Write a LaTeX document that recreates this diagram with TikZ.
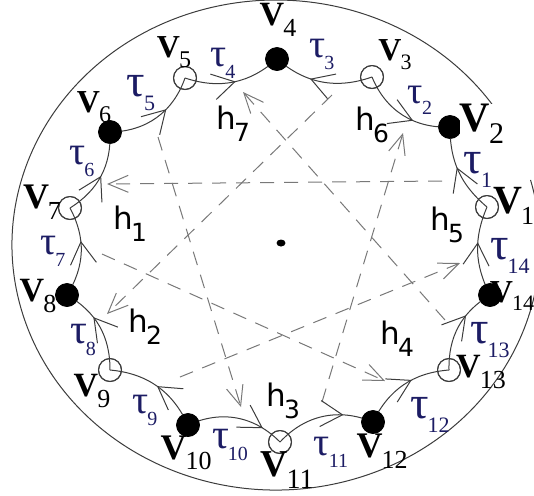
\documentclass[tikz,border=0pt]{standalone}
\usepackage{fontspec}
\setmainfont{Liberation Serif}
\newfontfamily\hfont{DejaVu Sans}
\usetikzlibrary{arrows.meta,decorations.markings}
\definecolor{taublue}{RGB}{28,28,100}
\definecolor{lin}{RGB}{60,60,60}
\definecolor{dsh}{RGB}{120,120,120}
\newcommand{\VL}[3]{{\fontsize{#1}{#1}\selectfont\bfseries V}\kern-0.5pt{\fontsize{#2}{#2}\selectfont\raisebox{-0.4em}{#3}}}
\newcommand{\TL}[3]{{\color{taublue}\fontsize{#1}{#1}\selectfont τ\kern-0.6pt\raisebox{-0.3em}{\fontsize{#2}{#2}\selectfont #3}}}
\newcommand{\HL}[1]{{\hfont\fontsize{15.5}{15.5}\selectfont h\kern-0.8pt\raisebox{-0.4em}{\fontsize{12.5}{12.5}\selectfont #1}}}
\begin{document}
\begin{tikzpicture}[x=0.5pt,y=-0.5pt,
  wv/.style={circle,draw=lin,line width=0.5pt,minimum size=11.5pt,inner sep=0},
  bv/.style={circle,fill=black,draw=black,minimum size=11.5pt,inner sep=0},
  tarc/.style={draw=lin,line width=0.5pt,postaction={decorate,decoration={markings,
      mark=at position #1 with {\arrow[lin,line width=0.5pt]{Straight Barb[length=11pt,width=13pt]}}}}},
  dline/.style={draw=dsh,line width=0.5pt,dash pattern=on 7pt off 5pt,
      -{Straight Barb[length=10pt,width=8.5pt]}},
  lab/.style={inner sep=0,outer sep=0}]
\useasboundingbox (0,0) rectangle (534,495);
% outer ellipse
\draw[lin,line width=0.5pt] (276,245) ++(-15.4:264 and 245)
   arc[start angle=-15.4,end angle=326.6,x radius=264,y radius=245];
\fill (281,243) ellipse [x radius=4.5,y radius=3.5];
% vertices
\node[wv] (v1) at (487,207) {};
\node[bv] (v2) at (450,127) {};
\node[wv] (v3) at (372,77) {};
\node[bv] (v4) at (277,59) {};
\node[wv] (v5) at (185,78) {};
\node[bv] (v6) at (110,132) {};
\node[wv] (v7) at (70,208) {};
\node[bv] (v8) at (67,295) {};
\node[wv] (v9) at (110,370) {};
\node[bv] (v10) at (188,425) {};
\node[wv] (v11) at (280,442) {};
\node[bv] (v12) at (373,422) {};
\node[wv] (v13) at (449,370) {};
\node[bv] (v14) at (490,295) {};
% dashed connectors
\coordinate (a1) at (442,181); \coordinate (a2) at (107,184);
\coordinate (b1) at (445,320); \coordinate (b2) at (243,92);
\coordinate (c1) at (158,137); \coordinate (c2) at (241,407);
\coordinate (d1) at (332,95);  \coordinate (d2) at (107,314);
\coordinate (e1) at (322,402); \coordinate (e2) at (403,133);
\coordinate (f1) at (180,377); \coordinate (f2) at (460,263);
\coordinate (g1) at (102,254); \coordinate (g2) at (385,381);
\draw[dline] (a1) -- (a2);
\draw[dline] (b1) -- (b2);
\draw[dline] (c1) -- (c2);
\draw[dline] (d1) -- (d2);
\draw[dline] (e1) -- (e2);
\draw[dline] (f1) -- (f2);
\draw[dline] (g1) -- (g2);
% tau arcs
\path[tarc=0.55] (v1.center) to[bend left=25] (v2.center);
\path[tarc=0.62] (v3.center) to[bend right=35] (v2.center);
\path[tarc=0.62] (v3.center) to[bend left=30] (v4.center);
\path[tarc=0.52] (v5.center) to[bend right=30] (v4.center);
\path[tarc=0.63] (v6.center) to[bend right=35] (v5.center);
\path[tarc=0.5] (v7.center) to[bend right=30] (v6.center);
\path[tarc=0.62] (v8.center) to[bend right=30] (v7.center);
\path[tarc=0.62] (v9.center) to[bend right=30] (v8.center);
\path[tarc=0.5] (v10.center) to[bend right=30] (v9.center);
\path[tarc=0.78] (v10.center) to[bend left=35] (v11.center);
\path[tarc=0.7] (v11.center) to[bend left=35] (v12.center);
\path[tarc=0.6] (v12.center) to[bend left=30] (v13.center);
\path[tarc=0.65] (v13.center) to[bend left=30] (v14.center);
\path[tarc=0.6] (v14.center) to[bend left=25] (v1.center);
% redraw vertices on top
\foreach \n in {v1,v3,v5,v7,v9,v11,v13}
  {\draw[lin,line width=0.5pt] (\n) circle [radius=11.5];}
\foreach \n in {v2,v4,v6,v8,v10,v12,v14}
  {\fill (\n) circle [radius=11.5];}
% vertex labels
\node[lab,anchor=east] (l1) at (534,206) {\VL{20}{13}{1}};
\node[lab,fill=white] (l2) at (482,124) {\VL{21}{15}{2}};
\node[lab] (l3) at (395,55) {\VL{16}{11}{3}};
\node[lab] (l4) at (278,20) {\VL{17}{13}{4}};
\node[lab] (l5) at (174,52) {\VL{16}{12}{5}};
\node[lab] (l6) at (94,107) {\VL{16}{12}{6}};
\node[lab] (l7) at (42,202) {\VL{18}{13}{7}};
\node[lab] (l8) at (38,296) {\VL{17}{13}{8}};
\node[lab] (l9) at (92,391) {\VL{17}{13}{9}};
\node[lab] (l10) at (186,453) {\VL{18}{13}{10}};
\node[lab] (l11) at (287,470) {\VL{19}{14}{11}};
\node[lab] (l12) at (382,451) {\VL{18}{13}{12}};
\node[lab] (l13) at (481,372) {\VL{17}{13}{13}};
\node[lab,anchor=east] (l14) at (534,296) {\VL{16}{11}{14}};
% tau labels
\node[lab] (t1) at (478,170) {\TL{23}{11}{1}};
\node[lab] (t2) at (420,100) {\TL{19}{10}{2}};
\node[lab] (t3) at (322,54) {\TL{20}{10}{3}};
\node[lab] (t4) at (223,63) {\TL{20}{10}{4}};
\node[lab] (t5) at (141,93) {\TL{23}{11}{5}};
\node[lab] (t6) at (82,161) {\TL{20}{10}{6}};
\node[lab] (t7) at (53,251) {\TL{20}{10}{7}};
\node[lab] (t8) at (83,340) {\TL{21}{10}{8}};
\node[lab] (t9) at (145,410) {\TL{20}{10}{9}};
\node[lab] (t10) at (230,445) {\TL{21}{10}{10}};
\node[lab] (t11) at (331,452) {\TL{20}{10}{11}};
\node[lab] (t12) at (430,415) {\TL{23}{11}{12}};
\node[lab] (t13) at (490,340) {\TL{23}{11}{13}};
\node[lab] (t14) at (510,256) {\TL{23}{11}{14}};
% h labels
\node[lab] (h1) at (130,224) {\HL{1}};
\node[lab] (h2) at (145,327) {\HL{2}};
\node[lab] (h3) at (283,401) {\HL{3}};
\node[lab] (h4) at (397,339) {\HL{4}};
\node[lab] (h5) at (447,225) {\HL{5}};
\node[lab] (h6) at (372,125) {\HL{6}};
\node[lab] (h7) at (233,124) {\HL{7}};
\end{tikzpicture}
\end{document}
